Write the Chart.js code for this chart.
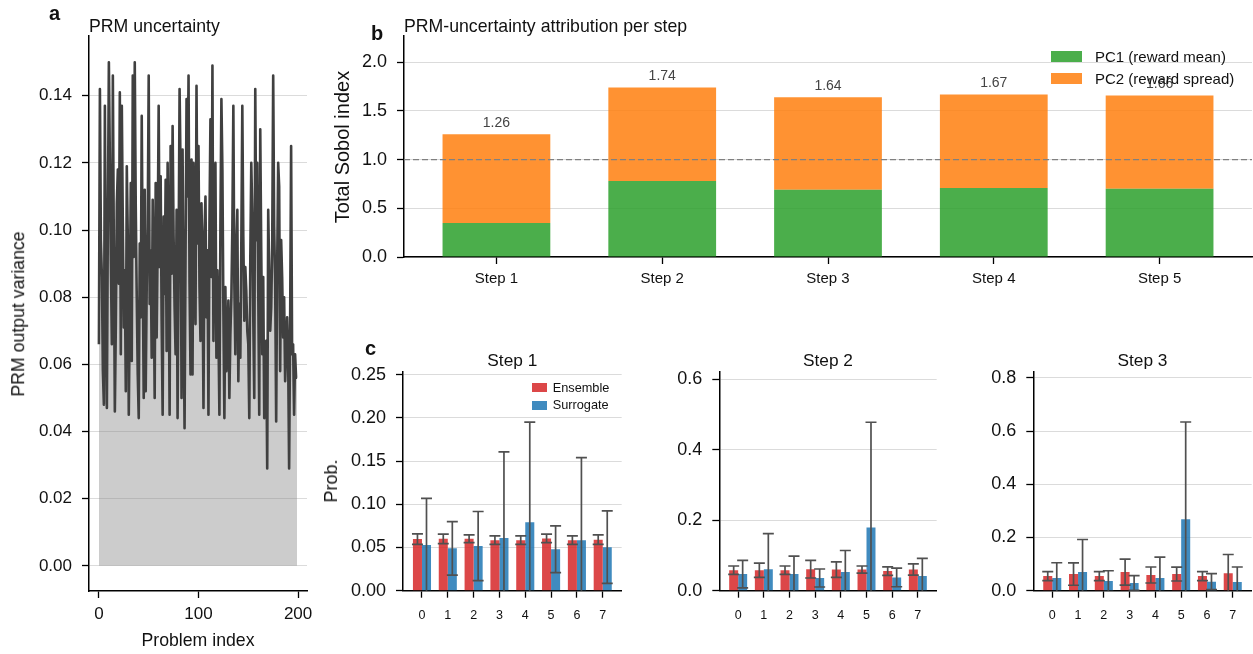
<!DOCTYPE html>
<html>
<head>
<meta charset="utf-8">
<script src="https://cdn.jsdelivr.net/npm/chart.js@4.4.0/dist/chart.umd.min.js"></script>
<style>
  body { margin: 0; background: #fff; width: 1253px; height: 654px; overflow: hidden; position: relative;
         font-family: "Liberation Sans", Arial, sans-serif; color: #111; }
  canvas { position: absolute; }
  .t { position: absolute; white-space: nowrap; line-height: 1; }
  .rot { transform: translate(-50%, -50%) rotate(-90deg); }
  .ctr { transform: translateX(-50%); }
  .b { font-weight: bold; }
  .sw { position: absolute; }
</style>
</head>
<body>
<canvas id="chA" width="320" height="654" style="left:0;top:0"></canvas>
<canvas id="chB" width="933" height="300" style="left:320px;top:0"></canvas>
<canvas id="chC1" width="310" height="314" style="left:320px;top:340px"></canvas>
<canvas id="chC2" width="310" height="314" style="left:640px;top:340px"></canvas>
<canvas id="chC3" width="303" height="314" style="left:950px;top:340px"></canvas>

<div class="t b" style="left:49px;top:3px;font-size:20px">a</div>
<div class="t" style="left:89px;top:18.3px;font-size:17.7px">PRM uncertainty</div>
<div class="t rot" style="left:18.5px;top:313.5px;font-size:17.7px">PRM output variance</div>
<div class="t ctr" style="left:198px;top:631.7px;font-size:17.7px">Problem index</div>

<div class="t b" style="left:371px;top:23px;font-size:20px">b</div>
<div class="t" style="left:404px;top:17.7px;font-size:17.7px">PRM-uncertainty attribution per step</div>
<div class="t rot" style="left:342.4px;top:146.5px;font-size:20px">Total Sobol index</div>
<div class="sw" style="left:1051px;top:51px;width:31px;height:11px;background:rgba(44,160,44,0.85)"></div>
<div class="sw" style="left:1051px;top:73px;width:31px;height:11px;background:rgba(255,127,14,0.85)"></div>
<div class="t" style="left:1095px;top:49.2px;font-size:15px">PC1 (reward mean)</div>
<div class="t" style="left:1095px;top:71.2px;font-size:15px">PC2 (reward spread)</div>

<div class="t b" style="left:365px;top:338px;font-size:20px">c</div>
<div class="t rot" style="left:331.3px;top:481px;font-size:18px">Prob.</div>
<div class="t ctr" style="left:512.3px;top:352px;font-size:17.3px">Step 1</div>
<div class="t ctr" style="left:828px;top:352px;font-size:17.3px">Step 2</div>
<div class="t ctr" style="left:1142.5px;top:352px;font-size:17.3px">Step 3</div>
<div class="sw" style="left:532px;top:383px;width:14.5px;height:9px;background:rgba(214,39,40,0.85)"></div>
<div class="sw" style="left:532px;top:401px;width:14.5px;height:9px;background:rgba(31,119,180,0.85)"></div>
<div class="t" style="left:552.7px;top:381.8px;font-size:12.75px">Ensemble</div>
<div class="t" style="left:552.7px;top:399.4px;font-size:12.75px">Surrogate</div>

<script>
// panel a: PRM output variance per problem
const prmVariance = [
  0.066, 0.142, 0.097, 0.086, 0.058, 0.048, 0.137, 0.081, 0.047, 0.104,
  0.150, 0.121, 0.091, 0.066, 0.146, 0.095, 0.046, 0.072, 0.108, 0.118,
  0.084, 0.141, 0.063, 0.137, 0.102, 0.071, 0.088, 0.052, 0.119, 0.098,
  0.045, 0.076, 0.114, 0.061, 0.146, 0.092, 0.150, 0.107, 0.080, 0.057,
  0.044, 0.096, 0.074, 0.134, 0.088, 0.050, 0.112, 0.052, 0.083, 0.101,
  0.146, 0.078, 0.094, 0.062, 0.109, 0.085, 0.050, 0.114, 0.068, 0.097,
  0.137, 0.089, 0.116, 0.073, 0.045, 0.104, 0.081, 0.115, 0.064, 0.120,
  0.092, 0.045, 0.125, 0.087, 0.131, 0.098, 0.077, 0.063, 0.106, 0.044,
  0.091, 0.142, 0.118, 0.050, 0.124, 0.079, 0.041, 0.093, 0.139, 0.110,
  0.146, 0.084, 0.057, 0.121, 0.057, 0.120, 0.090, 0.072, 0.143, 0.096,
  0.125, 0.083, 0.067, 0.108, 0.089, 0.047, 0.099, 0.110, 0.074, 0.094,
  0.045, 0.102, 0.133, 0.086, 0.149, 0.067, 0.097, 0.120, 0.062, 0.088,
  0.071, 0.045, 0.101, 0.139, 0.118, 0.076, 0.044, 0.083, 0.058, 0.066,
  0.079, 0.050, 0.069, 0.080, 0.101, 0.137, 0.084, 0.063, 0.095, 0.106,
  0.055, 0.078, 0.062, 0.096, 0.137, 0.098, 0.073, 0.089, 0.082, 0.070,
  0.066, 0.044, 0.091, 0.120, 0.105, 0.074, 0.050, 0.142, 0.097, 0.120,
  0.082, 0.045, 0.130, 0.094, 0.063, 0.086, 0.044, 0.052, 0.067, 0.029,
  0.106, 0.088, 0.070, 0.077, 0.095, 0.146, 0.101, 0.084, 0.043, 0.089,
  0.120, 0.113, 0.058, 0.097, 0.086, 0.068, 0.080, 0.055, 0.063, 0.074,
  0.063, 0.029, 0.071, 0.125, 0.063, 0.066, 0.045, 0.063, 0.056, 0.056
];
const problemIdx = prmVariance.map((_, i) => i);

// panel b: total Sobol index per step
const steps = ['Step 1', 'Step 2', 'Step 3', 'Step 4', 'Step 5'];
const pc1Mean = [0.35, 0.78, 0.69, 0.71, 0.70];
const pc2Spread = [0.91, 0.96, 0.95, 0.96, 0.96];

// panel c: token probabilities, ensemble vs surrogate
const tokens = ['0', '1', '2', '3', '4', '5', '6', '7'];
const ens1 = [0.0597, 0.060, 0.060, 0.0585, 0.0585, 0.0605, 0.0585, 0.059];
const ens1Err = [0.006, 0.0055, 0.0045, 0.005, 0.005, 0.005, 0.005, 0.0055];
const sur1 = [0.0528, 0.049, 0.0516, 0.061, 0.0793, 0.048, 0.0585, 0.0504];
const sur1Err = [0.054, 0.031, 0.040, 0.0995, 0.1157, 0.027, 0.0955, 0.042];
const ens2 = [0.058, 0.058, 0.058, 0.061, 0.060, 0.060, 0.0556, 0.060];
const ens2Err = [0.012, 0.020, 0.012, 0.025, 0.022, 0.010, 0.012, 0.016];
const sur2 = [0.047, 0.061, 0.047, 0.036, 0.053, 0.179, 0.0377, 0.0414];
const sur2Err = [0.039, 0.101, 0.051, 0.0255, 0.061, 0.2986, 0.0265, 0.050];
const ens3 = [0.055, 0.0625, 0.055, 0.070, 0.059, 0.0625, 0.055, 0.066];
const ens3Err = [0.017, 0.042, 0.017, 0.049, 0.030, 0.026, 0.017, 0.070];
const sur3 = [0.0475, 0.070, 0.036, 0.029, 0.0475, 0.269, 0.034, 0.0325];
const sur3Err = [0.0575, 0.1225, 0.039, 0.028, 0.0785, 0.365, 0.030, 0.0565];

Chart.defaults.font.family = '"Liberation Sans", Arial, sans-serif';
Chart.defaults.color = '#111';
Chart.defaults.animation = false;
Chart.defaults.plugins.legend.display = false;
Chart.defaults.plugins.tooltip.enabled = false;

const GRID = 'rgba(0,0,0,0.14)';

function yAxis(min, max, ticks, digits, width, size) {
  return {
    type: 'linear', min, max,
    afterBuildTicks: s => { s.ticks = ticks.map(v => ({ value: v })); },
    afterFit: s => { s.width = width; },
    ticks: { callback: v => v.toFixed(digits), font: { size }, padding: 10, color: '#111' },
    grid: { color: GRID, lineWidth: 1, tickColor: '#000', tickLength: 7, tickWidth: 1.3 },
    border: { color: '#000', width: 1.5 }
  };
}

function xAxis(min, max, ticks, labels, height, size, padding) {
  return {
    type: 'linear', min, max, offset: false,
    afterBuildTicks: s => { s.ticks = ticks.map(v => ({ value: v })); },
    afterFit: s => { s.height = height; },
    ticks: { callback: (v, i) => labels[i], font: { size }, padding, maxRotation: 0, autoSkip: false, color: '#111' },
    grid: { drawOnChartArea: false, offset: false, tickColor: '#000', tickLength: 7, tickWidth: 1.3 },
    border: { color: '#000', width: 1.5 }
  };
}

// panel a
new Chart(document.getElementById('chA'), {
  type: 'line',
  data: {
    datasets: [{
      data: prmVariance.map((v, i) => ({ x: problemIdx[i], y: v })),
      borderColor: '#404040', borderWidth: 2.6, pointRadius: 0, tension: 0,
      borderJoinStyle: 'round',
      fill: 'origin', backgroundColor: 'rgba(128,128,128,0.4)'
    }]
  },
  options: {
    responsive: false,
    layout: { padding: { top: 36, right: 13, left: 0, bottom: 0 } },
    scales: {
      x: xAxis(-9.95, 208.95, [0, 100, 200], ['0', '100', '200'], 63, 17, 6),
      y: yAxis(-0.0075, 0.1578, [0, 0.02, 0.04, 0.06, 0.08, 0.10, 0.12, 0.14], 2, 89, 17)
    }
  }
});

// panel b
const stepPos = steps.map((_, i) => i);
const sobolExtras = {
  id: 'sobolExtras',
  afterDatasetsDraw(chart) {
    const { ctx, chartArea: a, scales: { y } } = chart;
    const yr = y.getPixelForValue(1.0);
    ctx.save();
    ctx.strokeStyle = 'rgba(128,128,128,1)';
    ctx.lineWidth = 1.3;
    ctx.setLineDash([6, 3]);
    ctx.beginPath(); ctx.moveTo(a.left, yr); ctx.lineTo(a.right, yr); ctx.stroke();
    ctx.setLineDash([]);
    ctx.fillStyle = '#444';
    ctx.font = '14px "Liberation Sans", Arial, sans-serif';
    ctx.textAlign = 'center';
    ctx.textBaseline = 'middle';
    const meta = chart.getDatasetMeta(1);
    meta.data.forEach((bar, j) => {
      const total = pc1Mean[j] + pc2Spread[j];
      ctx.fillText(total.toFixed(2), bar.x, y.getPixelForValue(total) - 11);
    });
    ctx.restore();
  }
};
new Chart(document.getElementById('chB'), {
  type: 'bar',
  data: {
    datasets: [
      { label: 'PC1 (reward mean)', data: pc1Mean.map((v, i) => ({ x: stepPos[i], y: v })),
        backgroundColor: 'rgba(44,160,44,0.85)' },
      { label: 'PC2 (reward spread)', data: pc2Spread.map((v, i) => ({ x: stepPos[i], y: v })),
        backgroundColor: 'rgba(255,127,14,0.85)' }
    ]
  },
  options: {
    responsive: false,
    layout: { padding: { top: 36, right: 1, left: 0, bottom: 0 } },
    datasets: { bar: { categoryPercentage: 1, barPercentage: 0.65, borderWidth: 0 } },
    scales: {
      x: Object.assign(xAxis(-0.5575, 4.5575, stepPos, steps, 43, 15, 6), { stacked: true }),
      y: Object.assign(yAxis(0, 2.27, [0, 0.5, 1.0, 1.5, 2.0], 1, 84, 18), { stacked: true })
    }
  },
  plugins: [sobolExtras]
});

// panel c
const errorBars = {
  id: 'errorBars',
  afterDatasetsDraw(chart) {
    const { ctx, chartArea: a, scales: { y } } = chart;
    ctx.save();
    ctx.beginPath(); ctx.rect(a.left, a.top, a.right - a.left, a.bottom - a.top); ctx.clip();
    ctx.strokeStyle = '#505050';
    ctx.lineWidth = 1.7;
    chart.data.datasets.forEach((ds, di) => {
      chart.getDatasetMeta(di).data.forEach((bar, j) => {
        const m = ds.data[j].y, e = ds.errors[j];
        const yt = y.getPixelForValue(m + e), yb = y.getPixelForValue(m - e);
        ctx.beginPath();
        ctx.moveTo(bar.x, yt); ctx.lineTo(bar.x, yb);
        ctx.moveTo(bar.x - 5.5, yt); ctx.lineTo(bar.x + 5.5, yt);
        ctx.moveTo(bar.x - 5.5, yb); ctx.lineTo(bar.x + 5.5, yb);
        ctx.stroke();
      });
    });
    ctx.restore();
  }
};
const tokenPos = tokens.map((_, i) => i);
function tokenChart(id, ens, ensErr, sur, surErr, yMax, yTicks, digits, yWidth, padRight) {
  new Chart(document.getElementById(id), {
    type: 'bar',
    data: {
      datasets: [
        { label: 'Ensemble', data: ens.map((v, i) => ({ x: tokenPos[i], y: v })), errors: ensErr,
          backgroundColor: 'rgba(214,39,40,0.85)' },
        { label: 'Surrogate', data: sur.map((v, i) => ({ x: tokenPos[i], y: v })), errors: surErr,
          backgroundColor: 'rgba(31,119,180,0.85)' }
      ]
    },
    options: {
      responsive: false,
      layout: { padding: { top: 32, right: padRight, left: 0, bottom: 0 } },
      datasets: { bar: { categoryPercentage: 0.7, barPercentage: 1, borderWidth: 0 } },
      scales: {
        x: xAxis(-0.735, 7.735, tokenPos, tokens, 63.3, 12.5, 10),
        y: yAxis(0, yMax, yTicks, digits, yWidth, 18)
      }
    },
    plugins: [errorBars]
  });
}
tokenChart('chC1', ens1, ens1Err, sur1, sur1Err, 0.253, [0, 0.05, 0.10, 0.15, 0.20, 0.25], 2, 83, 8.3);
tokenChart('chC2', ens2, ens2Err, sur2, sur2Err, 0.62, [0, 0.2, 0.4, 0.6], 1, 79.3, 13.3);
tokenChart('chC3', ens3, ens3Err, sur3, sur3Err, 0.822, [0, 0.2, 0.4, 0.6, 0.8], 1, 83.3, 1.3);
</script>
</body>
</html>
